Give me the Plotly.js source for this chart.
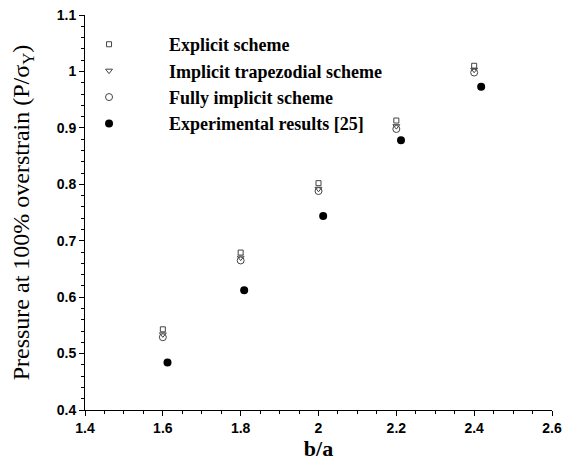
<!DOCTYPE html>
<html>
<head>
<meta charset="utf-8">
<script src="https://cdn.plot.ly/plotly-3.0.1.min.js"></script>
<style>html,body{margin:0;padding:0;background:#fff;}#chart{width:573px;height:461px;}</style>
</head>
<body>
<div id="chart"></div>
<script>
const ratioModel = [1.6, 1.8, 2.0, 2.2, 2.4];
const explicitScheme = [0.543, 0.679, 0.802, 0.913, 1.010];
const trapezoidalScheme = [0.534, 0.670, 0.792, 0.903, 1.003];
const fullyImplicitScheme = [0.529, 0.665, 0.788, 0.898, 0.998];
const ratioExp = [1.612, 1.809, 2.012, 2.212, 2.418];
const experimental = [0.484, 0.612, 0.744, 0.878, 0.973];
const seriesNames = ["Explicit scheme", "Implicit trapezodial scheme", "Fully implicit scheme", "Experimental results [25]"];

const gray = '#444';
const traces = [
  {x: ratioModel, y: explicitScheme, name: seriesNames[0], mode: 'markers', type: 'scatter',
   marker: {symbol: 'square-open', size: 5, color: gray, line: {width: 1, color: gray}}},
  {x: ratioModel, y: trapezoidalScheme, name: seriesNames[1], mode: 'markers', type: 'scatter',
   marker: {symbol: 'triangle-down-open', size: 6, color: gray, line: {width: 1, color: gray}}},
  {x: ratioModel, y: fullyImplicitScheme, name: seriesNames[2], mode: 'markers', type: 'scatter',
   marker: {symbol: 'circle-open', size: 7, color: gray, line: {width: 1, color: gray}}},
  {x: ratioExp, y: experimental, name: seriesNames[3], mode: 'markers', type: 'scatter',
   marker: {symbol: 'circle', size: 8, color: '#000'}}
];

const tickFont = {family: 'Liberation Sans, Arial, sans-serif', size: 14, color: '#000', weight: 'bold'};
const layout = {
  width: 573, height: 461,
  margin: {l: 85, r: 21, t: 15, b: 51},
  paper_bgcolor: '#fff', plot_bgcolor: '#fff',
  showlegend: true,
  legend: {x: -0.077, y: 0.972, xanchor: 'left', yanchor: 'top', itemwidth: 110,
    font: {family: 'Liberation Serif, Times New Roman, serif', size: 18, color: '#000', weight: 'bold'},
    bgcolor: 'rgba(0,0,0,0)', tracegroupgap: 0},
  xaxis: {range: [1.4, 2.6], tickvals: [1.4,1.6,1.8,2.0,2.2,2.4,2.6], ticktext: ['1.4','1.6','1.8','2','2.2','2.4','2.6'],
    showgrid: false, zeroline: false, showline: true, linecolor: '#000', linewidth: 1,
    ticks: 'outside', ticklen: 5, tickcolor: '#000', tickfont: tickFont,
    minor: {dtick: 0.05, ticks: 'outside', ticklen: 3, tickcolor: '#000', showgrid: false},
    title: {text: 'b/a', font: {family: 'Liberation Serif, Times New Roman, serif', size: 22, color: '#000', weight: 'bold'}, standoff: 2}},
  yaxis: {range: [0.4, 1.1], tickvals: [0.4,0.5,0.6,0.7,0.8,0.9,1.0,1.1], ticktext: ['0.4','0.5','0.6','0.7','0.8','0.9','1','1.1'],
    showgrid: false, zeroline: false, showline: true, linecolor: '#000', linewidth: 1,
    ticks: 'outside', ticklen: 5, tickcolor: '#000', tickfont: tickFont,
    minor: {dtick: 0.02, ticks: 'outside', ticklen: 3, tickcolor: '#000', showgrid: false},
    title: {text: 'Pressure at 100% overstrain (P/σ<sub>Y</sub>)', font: {family: 'Liberation Serif, Times New Roman, serif', size: 24, color: '#000'}, standoff: 20}}
};
Plotly.newPlot('chart', traces, layout, {displayModeBar: false, staticPlot: true});
</script>
</body>
</html>
